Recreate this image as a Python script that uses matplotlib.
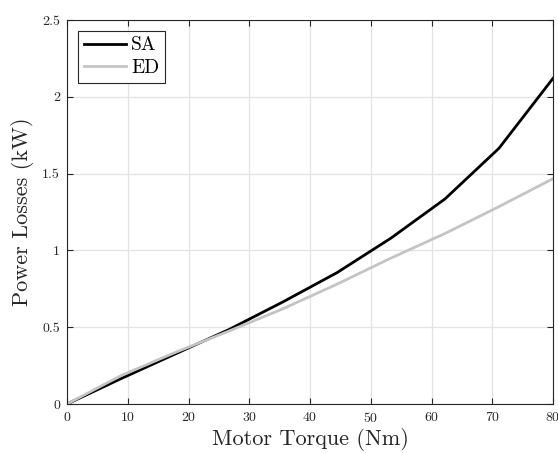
import matplotlib.pyplot as plt
from matplotlib.ticker import FuncFormatter

plt.rcParams['font.family'] = 'serif'
plt.rcParams['font.serif'] = ['cmr10']
plt.rcParams['mathtext.fontset'] = 'cm'
plt.rcParams['axes.formatter.use_mathtext'] = True

# motor torque (Nm)
torque = [0, 8.89, 17.78, 26.67, 35.56, 44.44, 53.33, 62.22, 71.11, 80]
# power losses (kW)
loss_sa = [0, 0.165, 0.325, 0.485, 0.665, 0.855, 1.08, 1.335, 1.665, 2.12]
loss_ed = [0, 0.185, 0.335, 0.475, 0.62, 0.78, 0.95, 1.11, 1.285, 1.467]

xticks = [0, 10, 20, 30, 40, 50, 60, 70, 80]
yticks = [0, 0.5, 1, 1.5, 2, 2.5]

fig = plt.figure(figsize=(5.58, 4.53), dpi=100)
ax = fig.add_axes([67/558, 49/453, 486/558, 384/453])

ax.plot(torque, loss_sa, color='black', lw=2.0, label='SA')
ax.plot(torque, loss_ed, color='#c4c4c4', lw=2.0, label='ED')

ax.set_xlim(0, 80)
ax.set_ylim(0, 2.5)
ax.set_xticks(xticks)
ax.set_yticks(yticks)
ax.yaxis.set_major_formatter(FuncFormatter(lambda v, p: '%g' % v))
ax.grid(True, color='#e3e3e3', lw=0.9)
ax.set_axisbelow(True)
ax.tick_params(direction='in', top=True, right=True, length=4, width=0.8,
               color='#262626', labelsize=10, labelcolor='#262626', pad=5)
for s in ax.spines.values():
    s.set_color('#262626')
    s.set_linewidth(0.8)

ax.set_xlabel('Motor Torque (Nm)', fontsize=16, color='#262626', labelpad=2)
ax.set_ylabel('Power Losses (kW)', fontsize=16, color='#262626', labelpad=6)

leg = ax.legend(loc='upper left', fontsize=14, fancybox=False, framealpha=1,
                edgecolor='#262626', handlelength=2.2, borderaxespad=0.55,
                borderpad=0.3, labelspacing=0.25, handletextpad=0.25)
leg.get_frame().set_linewidth(0.8)

fig.savefig('out.png', dpi=100)
